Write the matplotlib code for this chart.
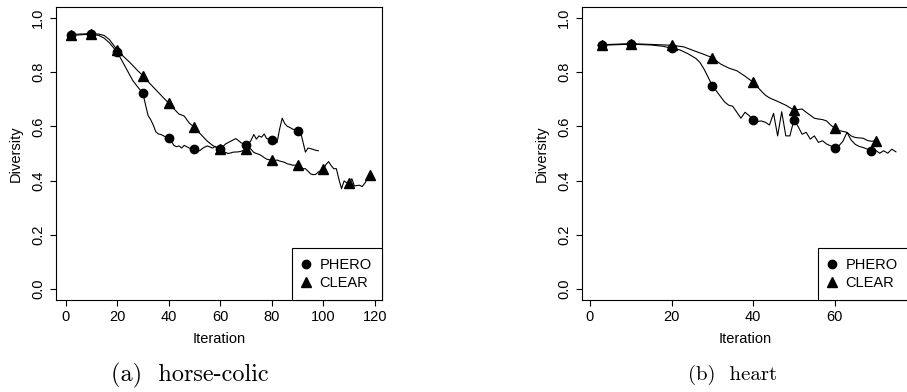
import numpy as np
import matplotlib
matplotlib.use("Agg")
from matplotlib import pyplot as plt
from matplotlib.lines import Line2D

# horse-colic: PHERO
hc_phero_x = [1, 2, 5, 10, 13, 15, 17, 20, 22, 24, 26, 28, 30, 31, 32, 33, 34, 35, 36, 37, 38, 40,
              41, 42, 43, 44, 45, 46, 47, 48, 50, 51, 52, 53, 54, 55, 56, 57, 58, 60,
              61, 62, 63, 64, 65, 66, 67, 68, 70, 71, 72, 73, 74, 75, 76, 77, 78, 79, 80,
              81, 82, 83, 84, 85, 86, 87, 88, 90, 91, 92, 93, 94, 95, 96, 97, 98]
hc_phero_y = [0.935, 0.936, 0.937, 0.940, 0.935, 0.925, 0.908, 0.874, 0.840, 0.805, 0.770, 0.745,
              0.722, 0.680, 0.640, 0.625, 0.605, 0.580, 0.572, 0.570, 0.565, 0.556,
              0.545, 0.530, 0.525, 0.528, 0.520, 0.530, 0.525, 0.520, 0.516, 0.512, 0.510,
              0.518, 0.524, 0.528, 0.524, 0.520, 0.526, 0.515,
              0.525, 0.535, 0.540, 0.545, 0.550, 0.555, 0.548, 0.540, 0.530, 0.535, 0.550,
              0.570, 0.553, 0.565, 0.560, 0.572, 0.555, 0.552, 0.549,
              0.545, 0.540, 0.590, 0.630, 0.610, 0.600, 0.596, 0.590, 0.584, 0.584, 0.545,
              0.505, 0.520, 0.518, 0.515, 0.512, 0.510]
hc_phero_marks = [2, 10, 20, 30, 40, 50, 60, 70, 80, 90]

# horse-colic: CLEAR
hc_clear_x = [1, 2, 5, 10, 13, 15, 17, 20, 22, 25, 28, 30, 32, 34, 36, 38, 40,
              41, 42, 43, 44, 45, 46, 47, 48, 50, 51, 53, 55, 57, 59, 60,
              61, 62, 63, 64, 65, 67, 68, 70, 71, 72, 73, 74, 75, 76, 77, 78, 80,
              81, 82, 83, 84, 85, 86, 87, 88, 90, 91, 92, 93, 94, 95, 96, 97, 98, 100,
              101, 102, 103, 104, 105, 106, 107, 108, 109, 110, 111, 112, 113, 114, 115, 116, 118]
hc_clear_y = [0.938, 0.938, 0.940, 0.942, 0.940, 0.935, 0.920, 0.882, 0.862, 0.835, 0.805, 0.787,
              0.765, 0.745, 0.725, 0.705, 0.686,
              0.675, 0.665, 0.655, 0.645, 0.642, 0.638, 0.625, 0.612, 0.596, 0.585, 0.565,
              0.545, 0.530, 0.520, 0.515,
              0.510, 0.504, 0.500, 0.502, 0.505, 0.506, 0.508, 0.515, 0.522, 0.515, 0.504,
              0.500, 0.497, 0.492, 0.485, 0.479, 0.475,
              0.474, 0.476, 0.472, 0.470, 0.467, 0.462, 0.460, 0.457, 0.457, 0.450, 0.444,
              0.444, 0.435, 0.425, 0.422, 0.423, 0.432, 0.442,
              0.460, 0.470, 0.455, 0.444, 0.444, 0.405, 0.370, 0.399, 0.392, 0.390, 0.407,
              0.380, 0.382, 0.383, 0.378, 0.390, 0.422]
hc_clear_marks = [2, 10, 20, 30, 40, 50, 60, 70, 80, 90, 100, 110, 118]

# heart: PHERO
ht_phero_x = [2, 3, 10, 15, 18, 20, 22, 24, 26, 27, 28, 29, 30, 31, 32, 33, 34, 35, 36, 37, 38,
              39, 40, 41, 42, 43, 44, 45, 46, 47, 48, 49, 50, 51, 52, 53, 54, 55, 56, 57,
              58, 59, 60, 61, 62, 63, 64, 65, 66, 67, 68, 69, 70, 71, 72, 73, 74, 75]
ht_phero_y = [0.898, 0.899, 0.903, 0.900, 0.895, 0.888, 0.882, 0.868, 0.850, 0.835, 0.810, 0.780,
              0.750, 0.730, 0.710, 0.690, 0.678, 0.674, 0.652, 0.630, 0.652,
              0.640, 0.624, 0.618, 0.620, 0.615, 0.605, 0.648, 0.565, 0.654, 0.565, 0.565,
              0.624, 0.600, 0.571, 0.578, 0.553, 0.565, 0.541, 0.547,
              0.535, 0.528, 0.522, 0.528, 0.545, 0.578, 0.550, 0.534, 0.526, 0.522, 0.516,
              0.510, 0.512, 0.501, 0.510, 0.501, 0.516, 0.506]
ht_phero_marks = [3, 10, 20, 30, 40, 50, 60, 69]

# heart: CLEAR
ht_clear_x = [2, 3, 10, 15, 20, 23, 26, 28, 30, 32, 34, 36, 38, 40, 42, 43, 44, 46, 48, 50,
              51, 52, 53, 55, 56, 57, 58, 59, 60, 61, 63, 64, 65, 67, 68, 69, 70]
ht_clear_y = [0.900, 0.901, 0.905, 0.902, 0.899, 0.893, 0.876, 0.865, 0.853, 0.830, 0.815,
              0.805, 0.785, 0.763, 0.730, 0.715, 0.705, 0.692, 0.678, 0.660,
              0.662, 0.664, 0.652, 0.630, 0.627, 0.625, 0.620, 0.605, 0.593, 0.585, 0.578,
              0.565, 0.559, 0.556, 0.548, 0.545, 0.547]
ht_clear_marks = [3, 10, 20, 30, 40, 50, 60, 70]

y_ticks = [0.0, 0.2, 0.4, 0.6, 0.8, 1.0]

plt.rcParams['font.family'] = ['Liberation Sans', 'DejaVu Sans']

W, H = 907, 392


def draw_panel(ax, series, xlim, xticks):
    for xs, ys, marks, mk, ms in series:
        idx = [i for i, v in enumerate(xs) if v in marks]
        ax.plot(xs, ys, color='black', lw=0.8, marker=mk, ms=ms, markevery=idx,
                mfc='black', mec='black')
    ax.set_xlim(*xlim)
    ax.set_ylim(-0.04, 1.04)
    ax.set_xticks(xticks)
    ax.set_yticks(y_ticks)
    ax.set_yticklabels(['%.1f' % t for t in y_ticks], rotation=90, va='center')
    ax.tick_params(direction='out', length=4, width=0.8, labelsize=10.5, pad=3)
    ax.tick_params(axis='y', pad=4)
    for s in ax.spines.values():
        s.set_linewidth(0.8)
    ax.set_xlabel('Iteration', fontsize=10.5, labelpad=6)
    ax.set_ylabel('Diversity', fontsize=10.5, labelpad=6)

    handles = [Line2D([], [], ls='none', marker='o', color='black', ms=6),
               Line2D([], [], ls='none', marker='^', color='black', ms=7.5)]
    leg = ax.legend(handles, ['PHERO', 'CLEAR'], loc='lower right', fontsize=10.5,
                    frameon=True, fancybox=False, edgecolor='black', framealpha=1,
                    borderaxespad=0, borderpad=0.7, handlelength=0.5,
                    handletextpad=0.7, labelspacing=0.25, numpoints=1)
    leg.get_frame().set_linewidth(0.8)


fig = plt.figure(figsize=(W / 100, H / 100), dpi=100)

ax1 = fig.add_axes([56 / W, (H - 300) / H, 326 / W, 293 / H])
draw_panel(ax1, [(hc_phero_x, hc_phero_y, hc_phero_marks, 'o', 6),
                 (hc_clear_x, hc_clear_y, hc_clear_marks, '^', 7.5)],
           (-3.7, 122.7), [0, 20, 40, 60, 80, 100, 120])

ax2 = fig.add_axes([582 / W, (H - 300) / H, 326 / W, 293 / H])
draw_panel(ax2, [(ht_phero_x, ht_phero_y, ht_phero_marks, 'o', 6),
                 (ht_clear_x, ht_clear_y, ht_clear_marks, '^', 7.5)],
           (-1.96, 77.96), [0, 20, 40, 60])

fig.text(190 / W, 1 - 375 / H, '(a)  horse-colic', fontfamily='cmr10', fontsize=17.5,
         ha='center', va='center')
fig.text(733 / W, 1 - 375 / H, '(b)  heart', fontfamily='cmr10', fontsize=15,
         ha='center', va='center')

fig.savefig('out.png', dpi=100)
plt.close(fig)
